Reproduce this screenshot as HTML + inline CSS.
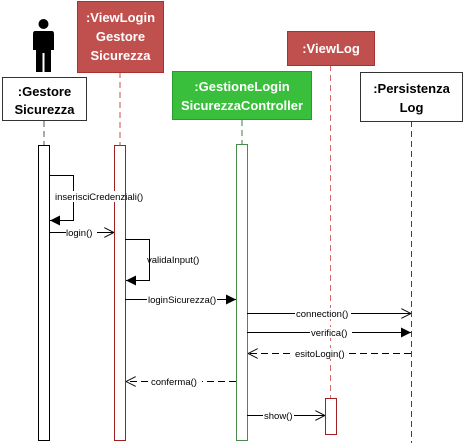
<!DOCTYPE html>
<html><head><meta charset="utf-8"><style>
html,body{margin:0;padding:0;background:#fff;}
svg{display:block;}
.h{font-family:"Liberation Sans",sans-serif;font-weight:bold;font-size:13px;text-anchor:middle;}
.m{font-family:"Liberation Sans",sans-serif;font-size:9.5px;}
</style></head><body>
<svg width="464" height="443" viewBox="0 0 464 443" xmlns="http://www.w3.org/2000/svg">
<defs>
<marker id="f" markerWidth="10" markerHeight="10" refX="10" refY="5" orient="auto" markerUnits="userSpaceOnUse"><path d="M0,0 L10,5 L0,10 z" fill="#000"/></marker>
<marker id="o" markerWidth="10" markerHeight="10" refX="10" refY="5" orient="auto" markerUnits="userSpaceOnUse"><path d="M0,0 L10,5 L0,10" fill="none" stroke="#000" stroke-width="1"/></marker>
</defs>
<circle cx="43.5" cy="24" r="5" fill="#000"/>
<path d="M35,31 H52 Q54,31 54,34 V50 H51 V72 H44.5 V53 H42.5 V72 H36 V50 H33 V34 Q33,31 35,31 z" fill="#000"/>
<g stroke-dasharray="6,4" stroke-width="1">
<line x1="44" y1="121" x2="44" y2="145" stroke="#555"/>
<line x1="120" y1="72" x2="120" y2="145" stroke="#c0504d"/>
<line x1="242" y1="120" x2="242" y2="145" stroke="#3a7d3a"/>
<line x1="330.5" y1="65" x2="330.5" y2="398" stroke="#d86c6c"/>
<line x1="411.5" y1="121" x2="411.5" y2="443" stroke="#444"/>
</g>
<rect x="2.5" y="77.5" width="84" height="43" fill="#fff" stroke="#333"/>
<text class="h" x="44.5" y="96">:Gestore</text><text class="h" x="44.5" y="114">Sicurezza</text>
<rect x="77.5" y="1.5" width="86" height="71" fill="#c0504d" stroke="#a8302e"/>
<text class="h" x="120.5" y="22" fill="#fff">:ViewLogin</text><text class="h" x="120.5" y="41" fill="#fff">Gestore</text><text class="h" x="120.5" y="60" fill="#fff">Sicurezza</text>
<rect x="172.5" y="71.5" width="139" height="48" fill="#39bf3b" stroke="#2a9a2c"/>
<text class="h" x="242" y="91" fill="#fff">:GestioneLogin</text><text class="h" x="242" y="110" fill="#fff">SicurezzaController</text>
<rect x="287.5" y="31.5" width="87" height="34" fill="#c0504d" stroke="#a8302e"/>
<text class="h" x="331" y="53" fill="#fff">:ViewLog</text>
<rect x="360.5" y="72.5" width="102" height="49" fill="#fff" stroke="#333"/>
<text class="h" x="411.5" y="93">:Persistenza</text><text class="h" x="411.5" y="112">Log</text>
<rect x="38.5" y="145.5" width="11" height="295" fill="#fff" stroke="#000"/>
<rect x="114.5" y="145.5" width="11" height="295" fill="#fff" stroke="#a02020"/>
<rect x="236.5" y="144.5" width="11" height="296" fill="#fff" stroke="#4a8a4a"/>
<rect x="325.5" y="398.5" width="11" height="36" fill="#fff" stroke="#a02020"/>
<g stroke="#000" stroke-width="1" fill="none">
<polyline points="49,175.5 73.5,175.5 73.5,220.5 50,220.5" marker-end="url(#f)"/>
<line x1="49" y1="232.5" x2="114" y2="232.5" marker-end="url(#o)"/>
<polyline points="125,239.5 149.5,239.5 149.5,280.5 126,280.5" marker-end="url(#f)"/>
<line x1="125" y1="299.5" x2="236" y2="299.5" marker-end="url(#f)"/>
<line x1="247" y1="313.5" x2="411" y2="313.5" marker-end="url(#o)"/>
<line x1="247" y1="332.5" x2="411" y2="332.5" marker-end="url(#f)"/>
<line x1="411" y1="353.5" x2="248" y2="353.5" stroke-dasharray="7,4" marker-end="url(#o)"/>
<line x1="236" y1="381.5" x2="126" y2="381.5" stroke-dasharray="7,4" marker-end="url(#o)"/>
<line x1="247" y1="415.5" x2="325" y2="415.5" marker-end="url(#o)"/>
</g>
<g class="m">
<rect x="55" y="191" width="63" height="11" fill="#fff"/><text x="55" y="200">inserisciCredenziali()</text>
<rect x="66" y="227" width="31" height="11" fill="#fff"/><text x="66" y="236">login()</text>
<text x="147" y="263">validaInput()</text>
<rect x="147" y="294" width="70" height="11" fill="#fff"/><text x="148" y="303">loginSicurezza()</text>
<rect x="295" y="308" width="56" height="11" fill="#fff"/><text x="296" y="317">connection()</text>
<rect x="310" y="327" width="42" height="11" fill="#fff"/><text x="311" y="336">verifica()</text>
<rect x="294" y="348" width="53" height="11" fill="#fff"/><text x="295" y="357">esitoLogin()</text>
<rect x="150" y="376" width="52" height="11" fill="#fff"/><text x="151" y="385">conferma()</text>
<rect x="263" y="410" width="31" height="11" fill="#fff"/><text x="264" y="419">show()</text>
</g>
</svg>
</body></html>
